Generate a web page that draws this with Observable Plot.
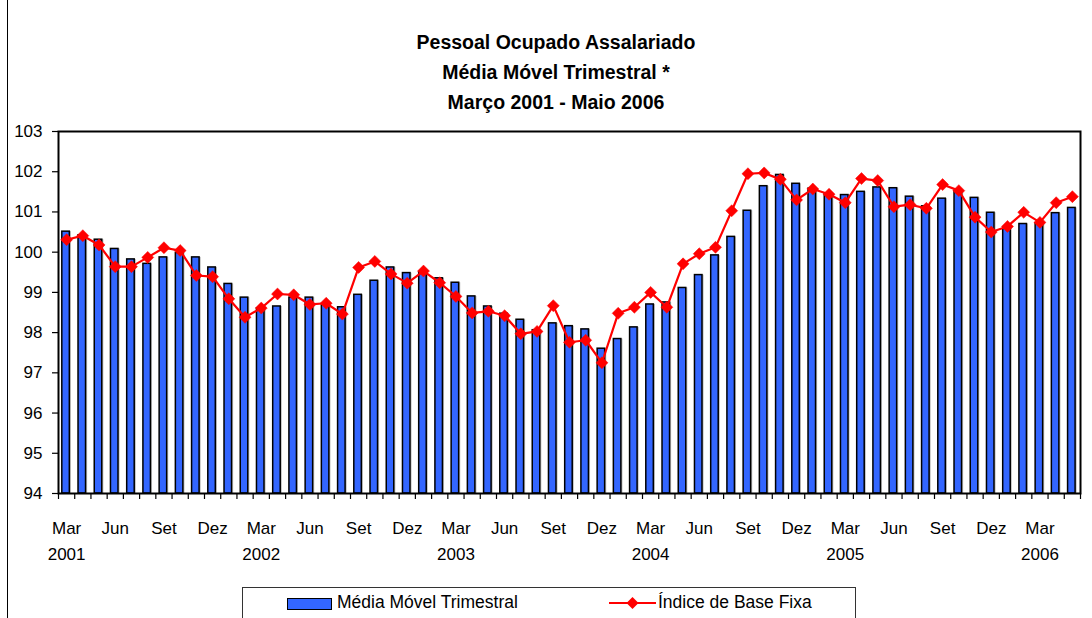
<!DOCTYPE html>
<html>
<head>
<meta charset="utf-8">
<script src="https://cdn.jsdelivr.net/npm/d3@7"></script>
<script src="https://cdn.jsdelivr.net/npm/@observablehq/plot@0.6"></script>
<style>
  html, body { margin: 0; padding: 0; background: #fff; }
  body { width: 1092px; height: 618px; overflow: hidden; position: relative; font-family: "Liberation Sans", Arial, sans-serif; color: #000; }
  #border { position: absolute; left: 7px; top: 0; width: 1px; height: 618px; background: #000; }
  #title { position: absolute; left: 0; top: 27px; width: 1112px; text-align: center; font-weight: bold; font-size: 19.5px; line-height: 30px; }
  #chart { position: absolute; left: 0; top: 118px; }
  #legend { position: absolute; left: 242px; top: 587px; width: 614px; height: 50px; border: 1px solid #333; box-sizing: border-box; font-size: 17.5px; }
  #legend .sw1 { position: absolute; left: 44px; top: 10px; width: 43px; height: 10px; background: #3366ff; border: 1.5px solid #000; }
  #legend .t1 { position: absolute; left: 94px; top: 4px; white-space: nowrap; }
  #legend svg { position: absolute; left: 365px; top: 5px; }
  #legend .t2 { position: absolute; left: 415px; top: 4px; white-space: nowrap; }
</style>
</head>
<body>
<div id="border"></div>
<div id="title">Pessoal Ocupado Assalariado<br>Média Móvel Trimestral *<br>Março 2001 - Maio 2006</div>
<div id="chart"></div>
<div id="legend">
  <div class="sw1"></div><div class="t1">Média Móvel Trimestral</div>
  <svg width="50" height="22"><line x1="1" y1="10" x2="48" y2="10" stroke="#ff0000" stroke-width="2"/><path d="M24.5,4 L30.5,10 L24.5,16 L18.5,10 Z" fill="#ff0000"/></svg>
  <div class="t2">Índice de Base Fixa</div>
</div>
<script>
const categories = [
  "Mar 2001","Abr 2001","Mai 2001","Jun 2001","Jul 2001","Ago 2001","Set 2001","Out 2001","Nov 2001","Dez 2001",
  "Jan 2002","Fev 2002","Mar 2002","Abr 2002","Mai 2002","Jun 2002","Jul 2002","Ago 2002","Set 2002","Out 2002","Nov 2002","Dez 2002",
  "Jan 2003","Fev 2003","Mar 2003","Abr 2003","Mai 2003","Jun 2003","Jul 2003","Ago 2003","Set 2003","Out 2003","Nov 2003","Dez 2003",
  "Jan 2004","Fev 2004","Mar 2004","Abr 2004","Mai 2004","Jun 2004","Jul 2004","Ago 2004","Set 2004","Out 2004","Nov 2004","Dez 2004",
  "Jan 2005","Fev 2005","Mar 2005","Abr 2005","Mai 2005","Jun 2005","Jul 2005","Ago 2005","Set 2005","Out 2005","Nov 2005","Dez 2005",
  "Jan 2006","Fev 2006","Mar 2006","Abr 2006","Mai 2006"
];
const mediaMovel = [
  100.51,100.42,100.31,100.08,99.82,99.71,99.87,99.98,99.87,99.62,
  99.21,98.87,98.60,98.65,98.87,98.87,98.70,98.63,98.94,99.29,99.62,99.48,
  99.50,99.35,99.24,98.90,98.65,98.47,98.32,98.06,98.23,98.16,98.08,97.60,
  97.84,98.13,98.70,98.75,99.11,99.43,99.92,100.38,101.03,101.64,101.92,101.70,
  101.58,101.44,101.42,101.50,101.61,101.59,101.38,101.14,101.33,101.52,101.35,100.98,
  100.62,100.70,100.72,100.97,101.10
];
const indiceBaseFixa = [
  100.31,100.41,100.18,99.64,99.64,99.87,100.11,100.04,99.42,99.39,
  98.84,98.38,98.61,98.96,98.94,98.70,98.73,98.46,99.62,99.77,99.46,99.23,
  99.53,99.24,98.90,98.49,98.53,98.42,97.97,98.03,98.67,97.76,97.81,97.25,
  98.48,98.63,99.00,98.63,99.71,99.96,100.12,101.03,101.95,101.97,101.81,101.30,
  101.57,101.44,101.23,101.83,101.78,101.13,101.18,101.09,101.68,101.53,100.87,100.50,
  100.64,100.99,100.74,101.23,101.38
];
const yDomain = [94, 103];
const yTicks = [94, 95, 96, 97, 98, 99, 100, 101, 102, 103];
const monthTicks = ["Mar 2001","Jun 2001","Set 2001","Dez 2001","Mar 2002","Jun 2002","Set 2002","Dez 2002",
  "Mar 2003","Jun 2003","Set 2003","Dez 2003","Mar 2004","Jun 2004","Set 2004","Dez 2004",
  "Mar 2005","Jun 2005","Set 2005","Dez 2005","Mar 2006"];
const yearTicks = ["Mar 2001","Mar 2002","Mar 2003","Mar 2004","Mar 2005","Mar 2006"];

const rows = categories.map((c, i) => ({cat: c, mm: mediaMovel[i], ibf: indiceBaseFixa[i]}));

const W = 1092, ML = 58, MR = 12;
const bw = (W - ML - MR) / categories.length;

const chart = Plot.plot({
  width: W, height: 450,
  marginTop: 13, marginBottom: 75, marginLeft: ML, marginRight: MR,
  style: {fontFamily: "'Liberation Sans', Arial, sans-serif", fontSize: "17px", color: "#000", background: "transparent", overflow: "visible"},
  x: {type: "band", domain: categories, padding: 0, round: false, label: null},
  y: {domain: yDomain, label: null},
  marks: [
    Plot.barY(rows, {x: "cat", y1: yDomain[0], y2: "mm", fill: "#bcbcbc", insetLeft: 3.8, insetRight: 4.9, dx: 1.6}),
    Plot.barY(rows, {x: "cat", y1: yDomain[0], y2: "mm", fill: "#3366ff", stroke: "#000", strokeWidth: 1.5, insetLeft: 3.8, insetRight: 4.9}),
    Plot.line(rows, {x: "cat", y: "ibf", stroke: "#ff0000", strokeWidth: 2.2}),
    Plot.dot(rows, {x: "cat", y: "ibf", symbol: "diamond2", r: 5.4, fill: "#ff0000", stroke: "#ff0000", strokeWidth: 0.5}),
    Plot.frame({stroke: "#000", strokeWidth: 2}),
    Plot.axisY({ticks: yTicks, tickSize: 6, tickPadding: 10, tickFormat: d => String(d), strokeWidth: 1.2}),
    Plot.axisX({ticks: categories, tickSize: 6, tickFormat: () => "", dx: -bw / 2, strokeWidth: 1.2}),
    Plot.axisX({ticks: [categories[categories.length - 1]], tickSize: 6, tickFormat: () => "", dx: bw / 2, strokeWidth: 1.2}),
    Plot.axisX({ticks: monthTicks, tickSize: 0, tickPadding: 28, tickFormat: d => d.split(" ")[0]}),
    Plot.axisX({ticks: yearTicks, tickSize: 0, tickPadding: 54, tickFormat: d => d.split(" ")[1]})
  ]
});
document.getElementById("chart").appendChild(chart);
</script>
</body>
</html>
